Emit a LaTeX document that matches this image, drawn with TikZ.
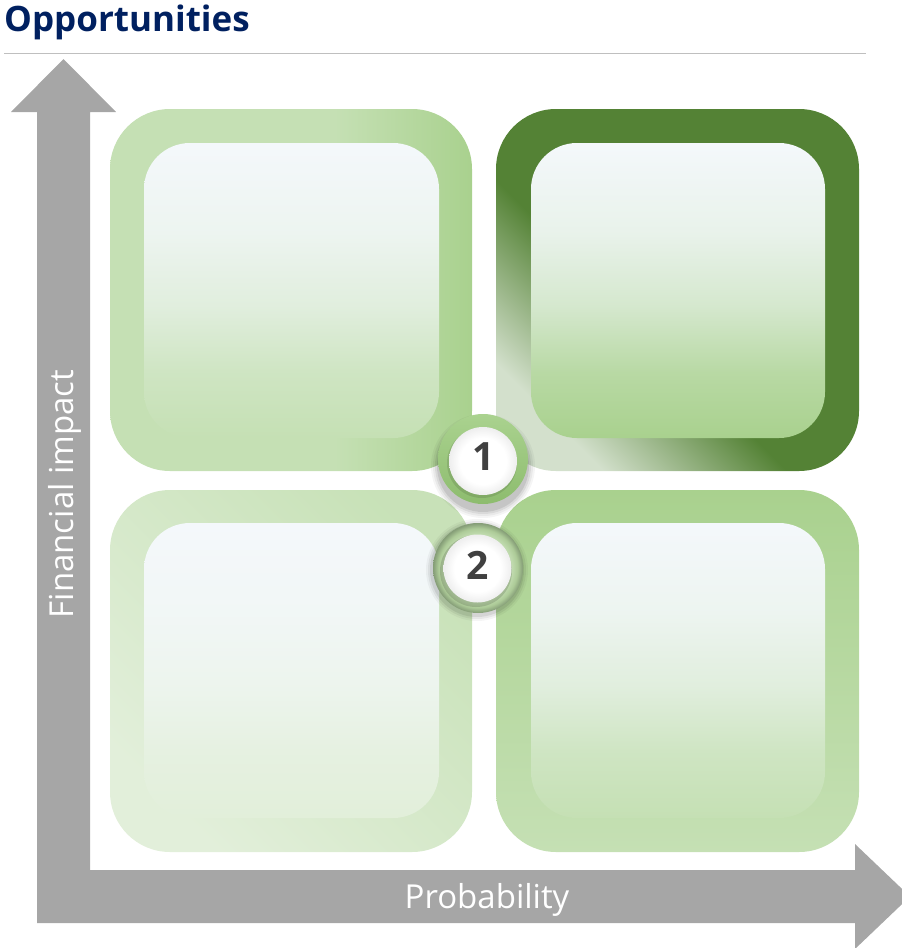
\documentclass[tikz,border=0pt]{standalone}
\usepackage{fontspec}
\setmainfont{Open Sans}
\definecolor{titleblue}{HTML}{002060}
\definecolor{rulegray}{HTML}{BFBFBF}
\definecolor{axisgray}{HTML}{A6A6A6}
\definecolor{intop}{HTML}{F4F8FB}
\definecolor{gLight}{HTML}{C5E0B4}
\definecolor{gMid}{HTML}{A9D18E}
\definecolor{gPale}{HTML}{E2EFDA}
\definecolor{gDark}{HTML}{548235}
\definecolor{trPale}{HTML}{D3E0CC}
\definecolor{numgray}{HTML}{404040}
\definecolor{ringA}{HTML}{AAD28F}
\definecolor{ringB}{HTML}{8DBC6E}
\definecolor{ringTwoA}{HTML}{BFDAAD}
\definecolor{ringTwoB}{HTML}{ADCB98}
\definecolor{ringTwoC}{HTML}{849C76}
\definecolor{discEdge}{HTML}{EEEEEE}
\newcommand\mkinner[2]{\pgfdeclareverticalshading{#1}{100bp}{color(0bp)=(#2); color(25bp)=(#2); color(36bp)=(#2!80!intop); color(47.5bp)=(#2!41!intop); color(60bp)=(#2!15!intop); color(75bp)=(intop); color(100bp)=(intop)}}
\mkinner{innerTL}{gLight}
\mkinner{innerTR}{gMid}
\mkinner{innerBL}{gPale}
\mkinner{innerBR}{gLight}
\pgfdeclarehorizontalshading{outerTL}{100bp}{color(0bp)=(gLight); color(56bp)=(gLight); color(75bp)=(gMid); color(100bp)=(gMid)}
\pgfdeclareverticalshading{outerTR}{100bp}{color(0bp)=(trPale); color(25bp)=(trPale); color(43bp)=(gDark); color(100bp)=(gDark)}
\pgfdeclareverticalshading{outerBL}{100bp}{color(0bp)=(gPale); color(25bp)=(gPale); color(75bp)=(gLight!90!gPale); color(100bp)=(gLight!90!gPale)}
\pgfdeclareradialshading{discshade}{\pgfpoint{0bp}{0bp}}{color(0bp)=(white); color(17bp)=(white); color(25bp)=(discEdge); color(50bp)=(discEdge)}
\pgfdeclareradialshading{ringtwoshade}{\pgfpoint{0bp}{0bp}}{color(0bp)=(ringTwoA); color(19bp)=(ringTwoA); color(22bp)=(ringTwoB); color(25bp)=(ringTwoC); color(50bp)=(ringTwoC)}
\tikzset{
  numlabel/.style={inner sep=0pt, text=numgray, font=\bfseries\fontsize{39}{42}\selectfont},
  axislabel/.style={inner sep=0pt, text=white, font=\fontsize{33}{40}\selectfont, anchor=base},
  outerbox/.style={rounded corners=60pt},
  innerbox/.style={rounded corners=46pt}
}
\begin{document}
\begin{tikzpicture}[x=1pt,y=-1pt]
\useasboundingbox (0,0) rectangle (902,948);
\clip (0,0) rectangle (902,948);
% title and rule
\node[anchor=base west, inner sep=0pt, font=\bfseries\fontsize{35}{40}\selectfont, text=titleblue] (title) at (4,31.7) {Opportunities};
\coordinate (ruleL) at (4,53.3);
\coordinate (ruleR) at (866,53.3);
\draw[rulegray, line width=1.3pt] (ruleL) -- (ruleR);
% axes (one L-shaped double arrow)
\fill[axisgray] (63.5,59) -- (116,112) -- (90,112) -- (90,870) -- (855,870) -- (855,844) -- (910,896.5) -- (855,949) -- (855,923) -- (37,923) -- (37,112) -- (11,112) -- cycle;
\node[axislabel, rotate=90] (ylabel) at (73.5,494) {Financial impact};
\node[axislabel] (xlabel) at (487,908) {Probability};
% quadrants
\shade[shading=outerTL, outerbox] (110,109) rectangle (472,471);
\shade[shading=innerTL, innerbox] (144,143) rectangle (439,438);
\shade[shading=outerTR, shading angle=-45, outerbox] (496,109) rectangle (859,471);
\shade[shading=innerTR, innerbox] (531,143) rectangle (825,438);
\shade[shading=outerBL, shading angle=-45, outerbox] (110,490) rectangle (472,852);
\shade[shading=innerBL, innerbox] (144,523) rectangle (439,818);
\shade[top color=gMid, bottom color=gLight, outerbox] (496,490) rectangle (859,852);
\shade[shading=innerBR, innerbox] (531,523) rectangle (825,818);
% marker 1
\foreach \r/\o in {52/0.04, 50/0.05, 48/0.07, 46/0.09}
  \fill[black, opacity=\o] (483,466) circle (\r pt);
\shade[top color=ringA, bottom color=ringB] (483,459) circle (45pt);
\fill[black, opacity=0.10] (482,463) circle (35pt);
\shade[shading=discshade] (483,461) circle (34pt);
\node[numlabel] (n1) at (484,456.5) {1};
% marker 2
\foreach \r/\o in {51/0.04, 49/0.06, 47/0.08}
  \fill[black, opacity=\o] (477,570) circle (\r pt);
\shade[shading=ringtwoshade] (478,568) circle (45pt);
\fill[black, opacity=0.14] (476,571) circle (36pt);
\shade[shading=discshade] (477.5,568.5) circle (34pt);
\node[numlabel] (n2) at (478,565) {2};
\end{tikzpicture}
\end{document}
